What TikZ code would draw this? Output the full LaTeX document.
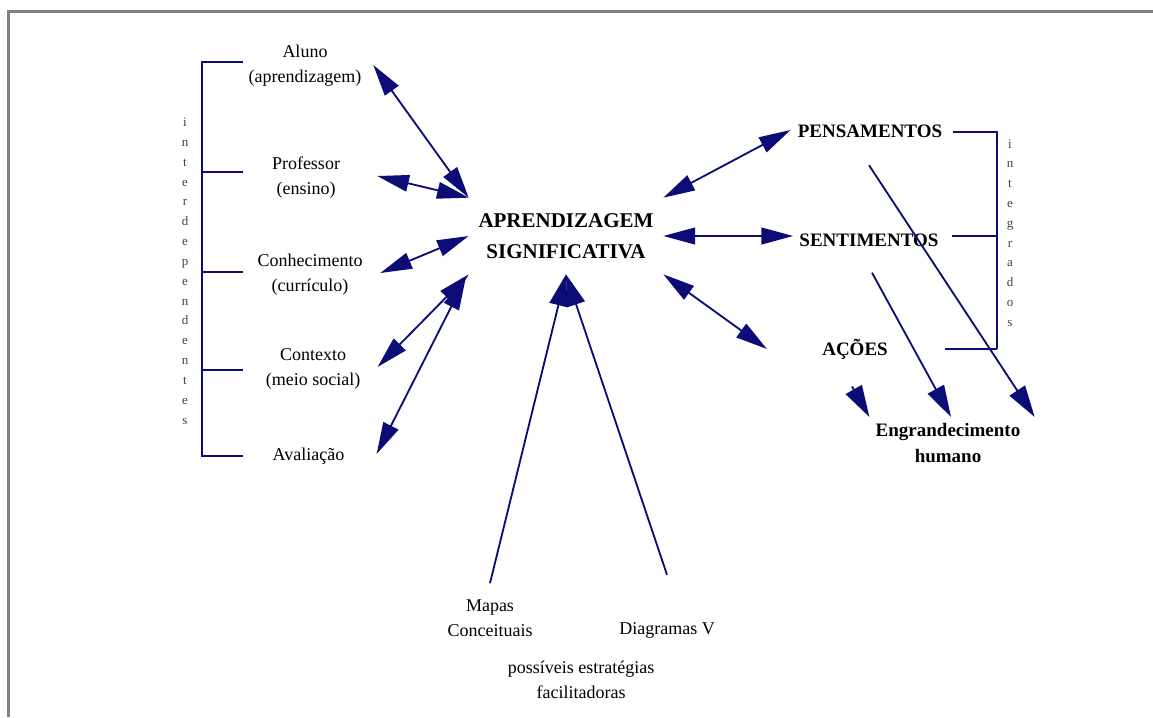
\documentclass[tikz,border=0pt]{standalone}
\usepackage{fontspec}
\setmainfont{Liberation Serif}
\usetikzlibrary{arrows.meta,positioning}
\definecolor{conceptnavy}{RGB}{12,12,118}

\begin{document}
\begin{tikzpicture}[x=0.6pt, y=-0.6pt,
  itemtext/.style={align=center, inner sep=0pt, font=\fontsize{10.8}{15}\selectfont},
  heading/.style={align=center, inner sep=0pt, font=\bfseries\fontsize{11.4}{15.6}\selectfont},
  spine/.style={align=center, inner sep=0pt, text=black!75, font=\fontsize{7.8}{11.9}\selectfont},
  link/.style={draw=conceptnavy, line width=1.1pt, {Triangle[length=19pt,width=10pt]}-{Triangle[length=19pt,width=10pt]}},
  lead/.style={draw=conceptnavy, line width=1.1pt, -{Triangle[length=19pt,width=11pt]}},
  bracket/.style={draw=conceptnavy, line width=1.2pt}]

\useasboundingbox (0,0) rectangle (1153,717);
\draw[gray, line width=1.5pt] (8.5,717) -- (8.5,11.5) -- (1153,11.5);

%nodes
\node [font=\bfseries\fontsize{12.6}{18.6}\selectfont, align=center, inner sep=0pt,
       minimum width=116.4pt, minimum height=45.6pt](ap) at (566,236){APRENDIZAGEM\\SIGNIFICATIVA};

\node [itemtext](aluno) at (305,66){Aluno\\(aprendizagem)};
\node [itemtext](prof) at (306,177.5){Professor\\(ensino)};
\node [itemtext](conhec) at (310,275){Conhecimento\\(currículo)};
\node [itemtext](contexto) at (313,369){Contexto\\(meio social)};
\node [itemtext](aval) at (308.5,456.5){Avaliação};

\node [spine](interdep) at (185,271){i\\n\\t\\e\\r\\d\\e\\p\\e\\n\\d\\e\\n\\t\\e\\s};

\node [heading](pens) at (870,131.5){PENSAMENTOS};
\node [heading](sent) at (869,240){SENTIMENTOS};
\node [heading](acoes) at (855,349){AÇÕES};
\node [heading](engr) at (948,443){Engrandecimento\\humano};

\node [spine](integ) at (1010,233){i\\n\\t\\e\\g\\r\\a\\d\\o\\s};

\node [itemtext](mapas) at (490,618){Mapas\\Conceituais};
\node [itemtext](diag) at (667,630){Diagramas V};
\node [itemtext](estrat) at (581,680){possíveis estratégias\\facilitadoras};

%brackets
\draw [bracket] (243,62) -- (202,62) -- (202,456) -- (243,456);
\draw [bracket] (202,172) -- (243,172);
\draw [bracket] (202,272) -- (243,272);
\draw [bracket] (202,370) -- (243,370);

\draw [bracket] (953,132) -- (997,132) -- (997,349);
\draw [bracket, line width=0.8pt] (952,236) -- (997,236);
\draw [bracket, line width=0.8pt] (945,349) -- (997,349);

%arrows
\draw [link] ([shift={(11.5,-1)}]aluno.east) -- (ap.north west);
\draw [link] ([shift={(37,-1.5)}]prof.east) -- (ap.north west);
\draw [link] ([shift={(17.5,-2)}]conhec.east) -- (ap.west);
\draw [link] ([shift={(17,-2)}]contexto.east) -- (ap.south west);
\draw [link] ([shift={(32,-2.5)}]aval.east) -- ([shift={(-3,4)}]ap.south west);

\draw [lead] ([shift={(0,-16)}]mapas.north) -- (ap.south);
\draw [lead] ([shift={(0,-47)}]diag.north) -- (ap.south);

\draw [link] (ap.north east) -- ([shift={(-7,-1.5)}]pens.west);
\draw [link] (ap.east) -- ([shift={(-6,-4)}]sent.west);
\draw [link] (ap.south east) -- ([shift={(-55,0)}]acoes.west);

\draw [lead] ([shift={(-1,27)}]pens.south) -- ([shift={(14,-6)}]engr.north east);
\draw [lead] ([shift={(3,26)}]sent.south) -- ([shift={(3,-6)}]engr.north);
\draw [lead] ([shift={(-3,27)}]acoes.south) -- ([shift={(-6,-6)}]engr.north west);

\end{tikzpicture}
\end{document}
